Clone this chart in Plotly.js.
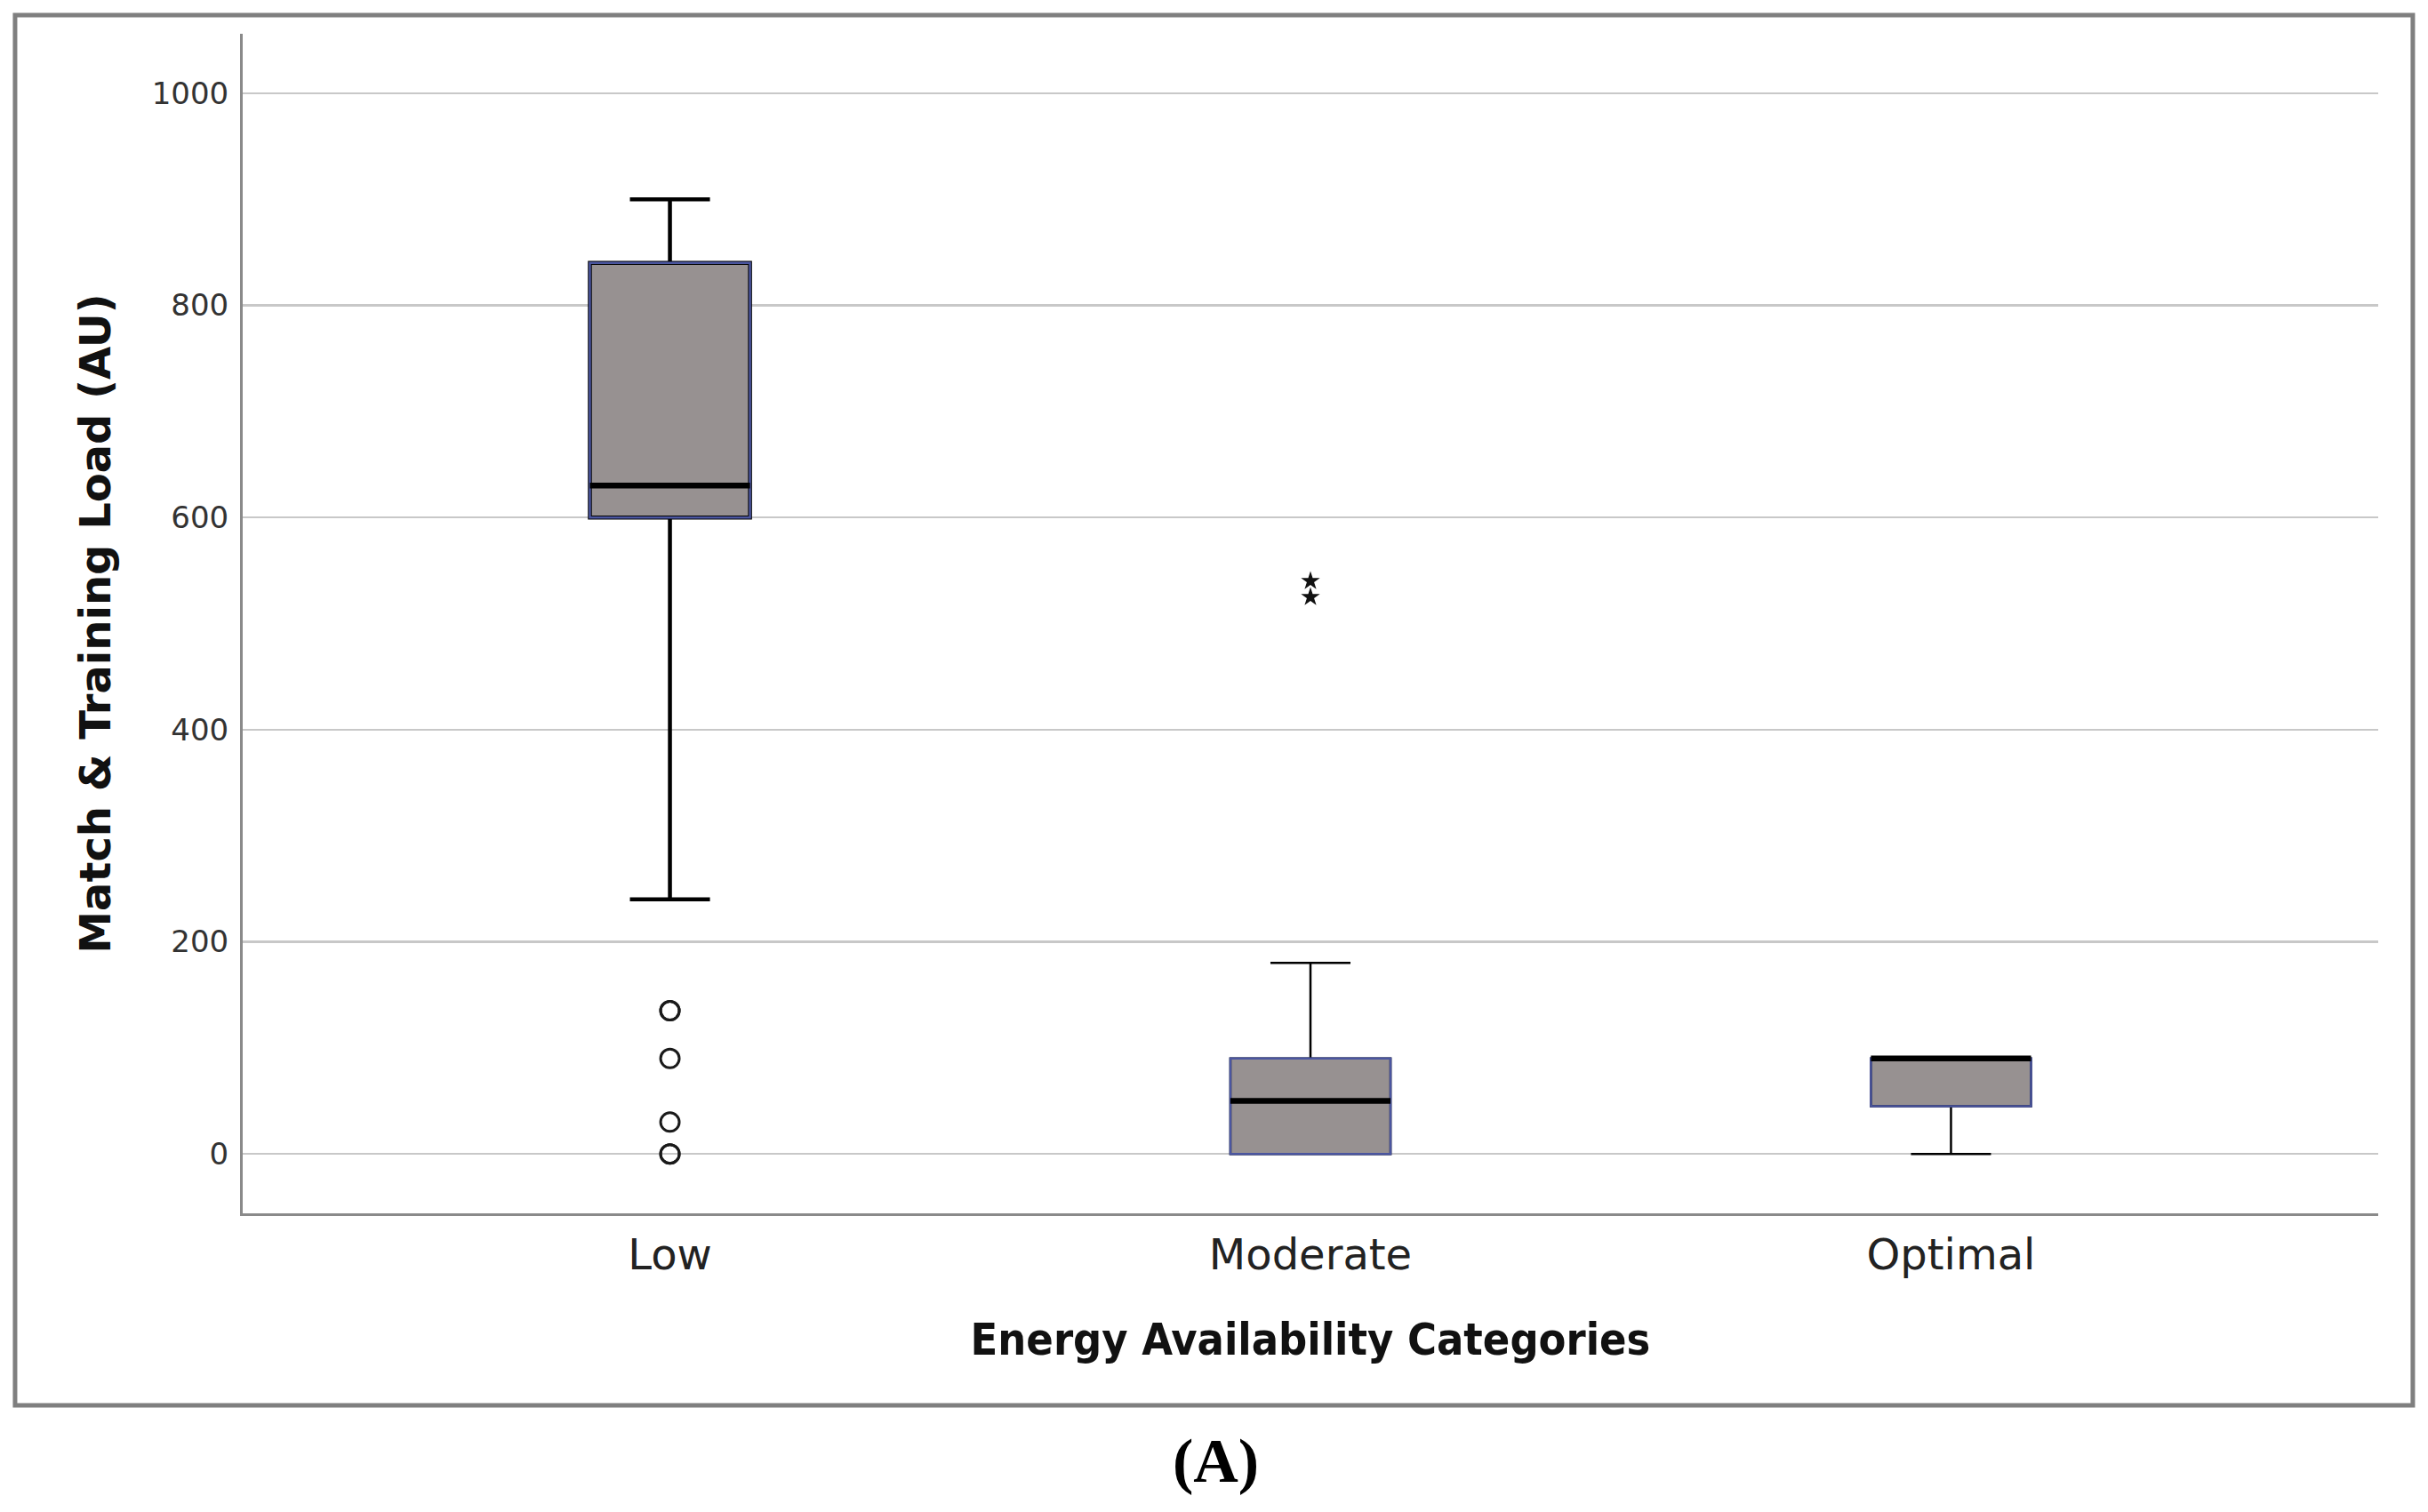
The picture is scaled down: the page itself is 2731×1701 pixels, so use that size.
<!DOCTYPE html>
<html>
<head>
<meta charset="utf-8">
<script src="https://cdn.plot.ly/plotly-3.0.1.min.js"></script>
<style>
  html, body { margin: 0; padding: 0; background: #ffffff; }
  #chart { width: 2731px; height: 1701px; }
</style>
</head>
<body>
<div id="chart"></div>
<script>
// ---- Data ----
const categories = ['Low', 'Moderate', 'Optimal'];
const q1Values = [600, 0, 45];
const medianValues = [630, 50, 90];
const q3Values = [840, 90, 90];
const lowerWhiskers = [240, 0, 0];
const upperWhiskers = [900, 180, 90];
const lowOutliers = [135, 135, 90, 30, 0, 0];          // circles (Low)
const moderateExtremes = [540, 525];                  // stars (Moderate)
const yTickValues = [0, 200, 400, 600, 800, 1000];
const xTitle = 'Energy Availability Categories';
const yTitle = 'Match & Training Load (AU)';
const panelLabel = '(A)';

// ---- Styling ----
const boxWidth = 0.25;
const boxFill = '#979191';
const boxBorder = 'rgb(75,86,160)';
const whiskerWidths = [4.5, 2.5, 2.5];

const traces = categories.map((c, i) => ({
  type: 'box',
  x: [c],
  q1: [q1Values[i]],
  median: [medianValues[i]],
  q3: [q3Values[i]],
  lowerfence: [lowerWhiskers[i]],
  upperfence: [upperWhiskers[i]],
  width: boxWidth,
  whiskerwidth: 0.5,
  fillcolor: boxFill,
  line: { color: '#000000', width: whiskerWidths[i] },
  boxpoints: false,
  hoverinfo: 'skip',
  showlegend: false
}));

traces.push({
  type: 'scatter',
  mode: 'markers',
  x: lowOutliers.map(() => categories[0]),
  y: lowOutliers,
  marker: { symbol: 'circle-open', size: 21, color: '#1a1a1a', line: { width: 3, color: '#1a1a1a' } },
  hoverinfo: 'skip',
  showlegend: false,
  cliponaxis: false
});
traces.push({
  type: 'scatter',
  mode: 'markers',
  x: moderateExtremes.map(() => categories[1]),
  y: moderateExtremes,
  marker: { symbol: 'star', size: 16, color: '#111111', line: { width: 0 } },
  hoverinfo: 'skip',
  showlegend: false
});

// Box borders (blue) and medians (black, thick) derived from the arrays above
const shapes = [];
categories.forEach((c, i) => {
  shapes.push({
    type: 'rect', xref: 'x', yref: 'y', layer: 'above',
    x0: i - boxWidth / 2, x1: i + boxWidth / 2, y0: q1Values[i], y1: q3Values[i],
    line: { color: boxBorder, width: 2.5 }, fillcolor: 'rgba(0,0,0,0)'
  });
  shapes.push({
    type: 'line', xref: 'x', yref: 'y', layer: 'above',
    x0: i - boxWidth / 2, x1: i + boxWidth / 2, y0: medianValues[i], y1: medianValues[i],
    line: { color: '#000000', width: 6.5 }
  });
});
// Outer figure frame
shapes.push({
  type: 'rect', xref: 'paper', yref: 'paper', layer: 'above',
  x0: -0.1066, x1: 1.0162, y0: -0.1628, y1: 1.0158,
  line: { color: '#7f7f7f', width: 5 }, fillcolor: 'rgba(0,0,0,0)'
});

const layout = {
  width: 2731,
  height: 1701,
  paper_bgcolor: '#ffffff',
  plot_bgcolor: '#ffffff',
  margin: { l: 273, r: 56, t: 38, b: 336 },
  showlegend: false,
  boxmode: 'overlay',
  font: { family: 'DejaVu Sans, sans-serif', color: '#222222' },
  xaxis: {
    type: 'category',
    categoryorder: 'array',
    categoryarray: categories,
    range: [-0.667, 2.667],
    showgrid: false,
    zeroline: false,
    showline: true,
    linecolor: '#8a8a8a',
    linewidth: 3,
    ticks: '',
    ticklabelstandoff: 2,
    tickfont: { family: 'DejaVu Sans, sans-serif', size: 48, color: '#222222' },
    title: {
      text: xTitle,
      standoff: 52,
      font: { family: 'DejaVu Sans Condensed, DejaVu Sans, sans-serif', size: 50, weight: 'bold', color: '#111111' }
    },
    fixedrange: true
  },
  yaxis: {
    range: [-56, 1056],
    tickvals: yTickValues,
    ticktext: yTickValues.map(String),
    showgrid: true,
    gridcolor: '#c8c8c8',
    gridwidth: 2.5,
    zeroline: false,
    showline: true,
    linecolor: '#8a8a8a',
    linewidth: 3,
    ticks: '',
    ticklabelstandoff: 6,
    tickfont: { family: 'DejaVu Sans, sans-serif', size: 34, color: '#333333' },
    title: {
      text: yTitle,
      standoff: 31,
      font: { family: 'DejaVu Sans, sans-serif', size: 48, weight: 'bold', color: '#111111' }
    },
    fixedrange: true
  },
  shapes: shapes,
  annotations: [
    {
      text: panelLabel,
      xref: 'paper', yref: 'paper',
      x: 0.4555, y: -0.2095,
      xanchor: 'center', yanchor: 'middle',
      showarrow: false,
      font: { family: 'Liberation Serif, serif', size: 70, weight: 'bold', color: '#000000' }
    }
  ]
};

Plotly.newPlot('chart', traces, layout, { displayModeBar: false, staticPlot: true, responsive: false });
</script>
</body>
</html>
